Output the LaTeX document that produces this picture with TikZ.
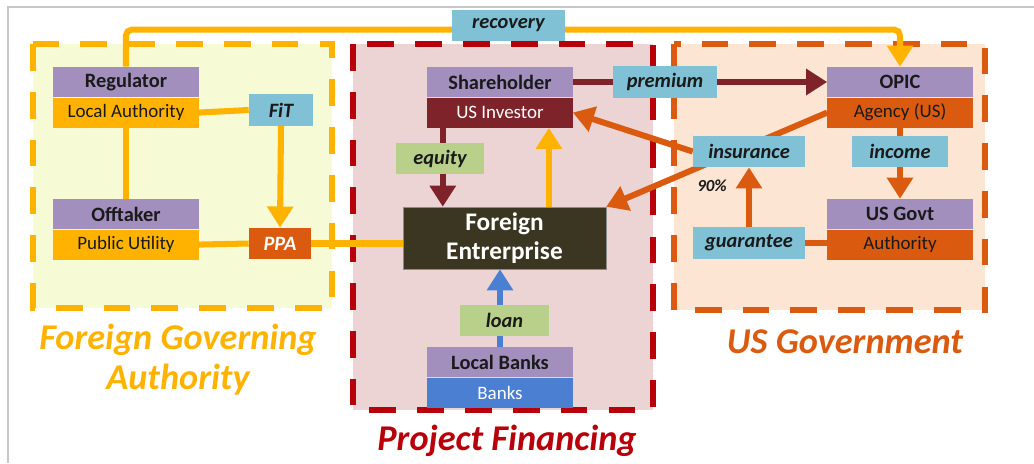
\documentclass[tikz,border=0pt]{standalone}
\usepackage{fontspec}
\setmainfont{Carlito}
\usetikzlibrary{positioning,arrows.meta}
\definecolor{ink}{HTML}{1A1A1A}
\definecolor{gold}{HTML}{FFB300}
\definecolor{lilac}{HTML}{A38FBE}
\definecolor{wine}{HTML}{7D2329}
\definecolor{rust}{HTML}{DA5A10}
\definecolor{sky}{HTML}{80C1D5}
\definecolor{sage}{HTML}{B9D08B}
\definecolor{crimson}{HTML}{B8000A}
\definecolor{royal}{HTML}{4A7FD2}
\definecolor{olive}{HTML}{3B3621}
\definecolor{lemonbg}{HTML}{F6FBD6}
\definecolor{rosebg}{HTML}{EDD4D4}
\definecolor{peachbg}{HTML}{FDE5D3}
\pgfdeclarelayer{bg}
\pgfdeclarelayer{wires}
\pgfsetlayers{bg,wires,main}
\begin{document}
\begin{tikzpicture}[x=0.025cm,y=-0.025cm,
	every node/.style={inner sep=0pt, text=ink},
	head/.style={fill=lilac, minimum width=3.625cm, minimum height=0.75cm, font=\fontsize{14.5}{16}\selectfont\bfseries},
	sub/.style={minimum width=3.625cm, minimum height=0.75cm, font=\fontsize{13.5}{15}\selectfont},
	tag/.style={fill=sky, minimum height=0.78cm, font=\fontsize{14.5}{16}\selectfont\bfseries\itshape},
	group/.style={line width=3.6pt, dash pattern=on 19pt off 15pt},
	gtitle/.style={align=center, font=\fontsize{25.8}{28.5}\selectfont\bfseries\itshape},
	wire/.style={line width=4.3pt},
	tip/.style={-{Triangle[width=18pt,length=15pt]}}]
	\useasboundingbox (0,0) rectangle (1034,463);
	\draw[black!22, line width=1pt] (1034,7) -- (8,7) -- (8,463);

	\node[head] (reg) at (126,82) {Regulator};
	\node[sub, fill=gold, below=0pt of reg] (regsub) {Local Authority};
	\node[head] (off) at (126,214) {Offtaker};
	\node[sub, fill=gold, below=0pt of off] (offsub) {Public Utility};
	\node[tag, minimum width=1.6cm] (fit) at (281,110) {FiT};
	\node[tag, fill=rust, text=white, minimum width=1.55cm] (ppa) at (280,243.5) {PPA};

	\node[head] (sh) at (500,82) {Shareholder};
	\node[sub, fill=wine, text=white, below=0pt of sh] (shsub) {US Investor};
	\node[tag, fill=sage, minimum width=2.2cm] (eq) at (440,158.5) {equity};
	\node[fill=olive, draw=black!45, thin, text=white, minimum width=5.07cm, minimum height=1.55cm, align=center,
		font=\fontsize{18}{21}\selectfont\bfseries] (fe) at (504.5,238) {Foreign\\Entrerprise};
	\node[tag, fill=sage, minimum width=2.22cm] (loan) at (504.5,320.5) {loan};
	\node[head] (lb) at (500,362) {Local Banks};
	\node[sub, fill=royal, text=white, below=0pt of lb] (lbsub) {Banks};

	\node[head] (opic) at (900,82) {OPIC};
	\node[sub, fill=rust, below=0pt of opic] (opicsub) {Agency (US)};
	\node[head] (usg) at (900,214) {US Govt};
	\node[sub, fill=rust, below=0pt of usg] (usgsub) {Authority};
	\node[tag, minimum width=2.6cm] (prem) at (665,82) {premium};
	\node[tag, minimum width=2.8cm] (ins) at (749,151.5) {insurance};
	\node[tag, minimum width=2.4cm] (inc) at (900,151.5) {income};
	\node[tag, minimum width=2.8cm] (guar) at (749,243) {guarantee};
	\node[font=\fontsize{12}{14}\selectfont\bfseries\itshape] (pct) at (712,186) {90\%};
	\node[tag, minimum width=2.83cm] (rec) at (508.5,25.5) {recovery};

	\node[gtitle, text=gold] (fgatitle) at (178,360) {Foreign Governing\\Authority};
	\node[gtitle, text=crimson] (pftitle) at (507,441) {Project Financing};
	\node[gtitle, text=rust] (usgtitle) at (845,342) {US Government};

	\begin{pgfonlayer}{bg}
		\draw[group, gold, fill=lemonbg] (33,44) rectangle (332,308);
		\draw[group, crimson, fill=rosebg] (353,44) rectangle (653,410);
		\draw[group, rust, fill=peachbg] (674,44) rectangle (985,310);
	\end{pgfonlayer}

	\begin{pgfonlayer}{wires}
		\draw[wire, gold, tip, rounded corners=4pt] (reg.north) -- ++(0,-37) -| (opic.north);
		\draw[wire, gold] (regsub.south) -- (off.north);
		\draw[wire, gold] (regsub.east) -- (fit.west);
		\draw[wire, gold, tip] (fit.south) -- (ppa.north);
		\draw[wire, gold] (offsub.east) -- (ppa.west);
		\draw[wire, gold] (ppa.east) -- (ppa.east -| fe.west);
		\draw[wire, gold, tip] ([xshift=1.11cm]fe.north) -- ([xshift=1.11cm]fe.north |- shsub.south);
		\draw[wire, wine, tip] ([xshift=-1.43cm]shsub.south) -- ([xshift=-1.43cm]shsub.south |- fe.north);
		\draw[wire, royal, tip] (lb.north) -- (lb.north |- fe.south);
		\draw[wire, wine, tip] (sh.east) -- (opic.west);
		\draw[wire, rust, tip] (opicsub.south) -- (usg.north);
		\draw[wire, rust] (guar.east) -- (guar.east -| usgsub.west);
		\draw[wire, rust, tip] (guar.north) -- (ins.south);
		\draw[wire, rust, tip] (ins.west) -- (shsub.east);
		\draw[wire, rust, tip] (opicsub.west) -- (fe.north east);
	\end{pgfonlayer}
\end{tikzpicture}
\end{document}
